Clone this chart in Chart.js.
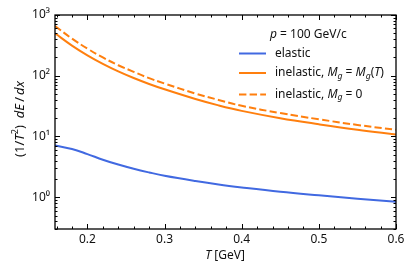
<!DOCTYPE html>
<html>
<head>
<meta charset="utf-8">
<script src="https://cdn.jsdelivr.net/npm/chart.js@4/dist/chart.umd.min.js"></script>
<style>
html,body{margin:0;padding:0;background:#fff;}
#wrap{width:415px;height:277px;}
</style>
</head>
<body>
<div id="wrap"><canvas id="c" width="415" height="277"></canvas></div>
<script>
// Temperature grid (GeV)
const T = [0.158, 0.18, 0.2, 0.22, 0.24, 0.26, 0.28, 0.3, 0.34, 0.37, 0.4, 0.45, 0.5, 0.55, 0.6];
// (1/T^2) dE/dx
const elastic       = [7.1, 6.22, 5.13, 4.15, 3.45, 2.94, 2.56, 2.26, 1.85, 1.62, 1.45, 1.23, 1.074, 0.946, 0.843];
const inelasticMgT  = [500, 314, 217, 157, 118, 91.8, 73.3, 59.8, 41.4, 32.5, 26.4, 20.0, 15.9, 12.9, 10.8];
const inelasticMg0  = [659, 409, 280, 200, 149, 116, 91.2, 74.5, 51, 40, 32, 24.3, 19.2, 15.5, 12.9];

const xTicks = [0.2, 0.3, 0.4, 0.5, 0.6];
const xTickLabels = ['0.2', '0.3', '0.4', '0.5', '0.6'];
const yTicks = [1, 10, 100, 1000];
const yTickLabels = ['10\u2070', '10\u00B9', '10\u00B2', '10\u00B3'];

const BLUE = '#4169e1';
const ORANGE = '#ff7f0e';
const FONT = '"Noto Sans", "DejaVu Sans", sans-serif';

function pts(ys){ return T.map((t,i)=>({x:t, y:ys[i]})); }

// draw a sequence of [text, style] runs; style: '' normal, 'it' italic, 'sub', 'sup'
function runs(ctx, x, y, parts, size){
  let cx = x;
  for (const p of parts){
    const st = p[1] || '';
    let sz = size, dy = 0, ital = false;
    if (st === 'it') ital = true;
    if (st === 'sub') { sz = size*0.72; dy = size*0.28; ital = true; }
    if (st === 'sup') { sz = size*0.72; dy = -size*0.38; }
    ctx.font = (ital ? 'italic ' : '') + sz + 'px ' + FONT;
    ctx.fillText(p[0], cx, y + dy);
    cx += ctx.measureText(p[0]).width;
  }
  return cx - x;
}
function measureRuns(ctx, parts, size){
  let w = 0;
  ctx.save();
  for (const p of parts){
    const st = p[1] || '';
    let sz = size, ital = (st === 'it' || st === 'sub');
    if (st === 'sub' || st === 'sup') sz = size*0.72;
    ctx.font = (ital ? 'italic ' : '') + sz + 'px ' + FONT;
    w += ctx.measureText(p[0]).width;
  }
  ctx.restore();
  return w;
}

const decor = {
  id: 'decor',
  afterDraw(chart){
    const ctx = chart.ctx;
    const a = chart.chartArea;
    const xs = chart.scales.x, ys = chart.scales.y;
    ctx.save();
    ctx.strokeStyle = '#000';
    ctx.lineWidth = 1;
    const xMinor = [];
    for (let k = 8; k <= 30; k++) { if (k % 5 !== 0) xMinor.push(k/50); }
    ctx.beginPath();
    for (const v of xTicks){
      const px = Math.round(xs.getPixelForValue(v)) + 0.5;
      ctx.moveTo(px, a.bottom); ctx.lineTo(px, a.bottom - 5);
      ctx.moveTo(px, a.top); ctx.lineTo(px, a.top + 5);
    }
    for (const v of xMinor){
      if (v < xs.min || v > xs.max) continue;
      const px = Math.round(xs.getPixelForValue(v)) + 0.5;
      ctx.moveTo(px, a.bottom); ctx.lineTo(px, a.bottom - 2.5);
      ctx.moveTo(px, a.top); ctx.lineTo(px, a.top + 2.5);
    }
    for (const v of yTicks){
      const py = Math.round(ys.getPixelForValue(v)) + 0.5;
      ctx.moveTo(a.left, py); ctx.lineTo(a.left + 5, py);
      ctx.moveTo(a.right, py); ctx.lineTo(a.right - 5, py);
    }
    for (const d of [0.1, 1, 10, 100]){
      for (let m = 2; m <= 9; m++){
        const v = m*d;
        if (v < ys.min || v > ys.max) continue;
        const py = Math.round(ys.getPixelForValue(v)) + 0.5;
        ctx.moveTo(a.left, py); ctx.lineTo(a.left + 2.5, py);
        ctx.moveTo(a.right, py); ctx.lineTo(a.right - 2.5, py);
      }
    }
    ctx.stroke();
    ctx.lineWidth = 1.3;
    ctx.strokeRect(a.left, a.top, a.right - a.left, a.bottom - a.top);

    ctx.fillStyle = '#111';
    ctx.textBaseline = 'middle';
    ctx.textAlign = 'left';
    const S = 12;
    // x title
    const xt = [['T','it'],[' [GeV]','']];
    const wx = measureRuns(ctx, xt, S);
    runs(ctx, 225 - wx/2, 256, xt, S);
    // y title (rotated)
    const YS = 13;
    const yt = [['(1/',''],['T','it'],['2','sup'],[')  ',''],['dE','it'],['\u2009/\u2009',''],['dx','it']];
    const wy = measureRuns(ctx, yt, YS);
    ctx.save();
    ctx.translate(20, 119);
    ctx.rotate(-Math.PI/2);
    runs(ctx, -wy/2, 0, yt, YS);
    ctx.restore();

    // legend
    runs(ctx, 270, 35, [['p','it'],[' = 100 GeV/c','']], S);
    const items = [
      {y: 53.5, color: BLUE, dash: [], parts: [['elastic','']]},
      {y: 73, color: ORANGE, dash: [], parts: [['inelastic, ',''],['M','it'],['g','sub'],[' = ',''],['M','it'],['g','sub'],['(',''],['T','it'],[')','']]},
      {y: 94.5, color: ORANGE, dash: [7.4, 3.2], parts: [['inelastic, ',''],['M','it'],['g','sub'],[' = 0','']]}
    ];
    for (const it of items){
      ctx.save();
      ctx.strokeStyle = it.color;
      ctx.lineWidth = 2;
      ctx.setLineDash(it.dash);
      ctx.beginPath();
      ctx.moveTo(239, it.y); ctx.lineTo(266, it.y);
      ctx.stroke();
      ctx.restore();
      runs(ctx, 275, it.y, it.parts, S);
    }
    ctx.restore();
  }
};

new Chart(document.getElementById('c'), {
  type: 'line',
  data: {
    datasets: [
      {label: 'elastic', data: pts(elastic), borderColor: BLUE, borderWidth: 2, pointRadius: 0, tension: 0.4, fill: false},
      {label: 'inelastic, Mg = Mg(T)', data: pts(inelasticMgT), borderColor: ORANGE, borderWidth: 2, pointRadius: 0, tension: 0.4, fill: false},
      {label: 'inelastic, Mg = 0', data: pts(inelasticMg0), borderColor: ORANGE, borderWidth: 2, borderDash: [7.4, 3.2], pointRadius: 0, tension: 0.4, fill: false}
    ]
  },
  options: {
    responsive: false,
    animation: false,
    layout: {padding: {top: 15, right: 19, left: 0, bottom: 0}},
    plugins: {legend: {display: false}, tooltip: {enabled: false}},
    scales: {
      x: {
        type: 'linear', min: 0.158, max: 0.6,
        afterBuildTicks: s => { s.ticks = xTicks.map(v => ({value: v})); },
        afterFit: s => { s.height = 48; },
        grid: {display: false, drawTicks: false},
        border: {display: false},
        ticks: {
          padding: 3, color: '#111', maxRotation: 0, autoSkip: false,
          font: {family: FONT, size: 12},
          callback: v => { const i = xTicks.findIndex(t => Math.abs(t - v) < 1e-9); return i >= 0 ? xTickLabels[i] : ''; }
        }
      },
      y: {
        type: 'logarithmic', min: 0.3, max: 1000,
        afterBuildTicks: s => { s.ticks = yTicks.map(v => ({value: v})); },
        afterFit: s => { s.width = 55; },
        grid: {display: false, drawTicks: false},
        border: {display: false},
        ticks: {
          padding: 5, color: '#111', autoSkip: false,
          font: {family: FONT, size: 12},
          callback: v => { const i = yTicks.findIndex(t => Math.abs(t - v) < 1e-9); return i >= 0 ? yTickLabels[i] : ''; }
        }
      }
    }
  },
  plugins: [decor]
});
</script>
</body>
</html>
